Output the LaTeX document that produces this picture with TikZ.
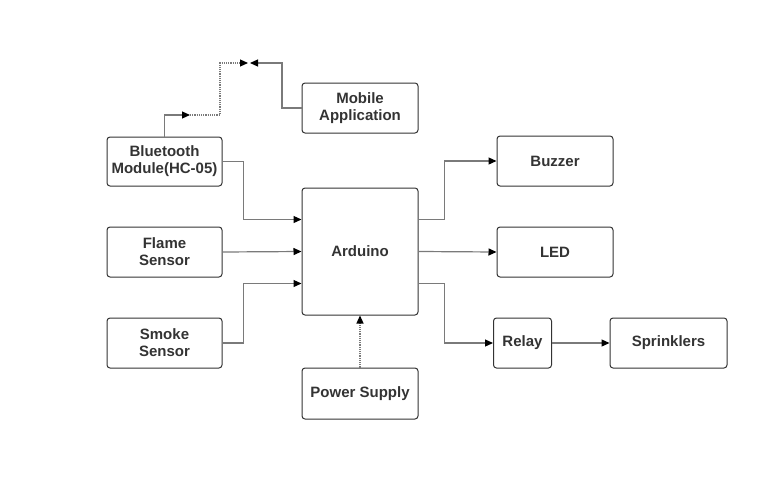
\documentclass[tikz,border=0pt]{standalone}
\usepackage{fontspec}
\setmainfont{Liberation Sans}
\usepackage{xcolor}
\usetikzlibrary{positioning,calc,arrows.meta}
\definecolor{boxline}{HTML}{333333}
\definecolor{wire}{HTML}{7A7A7A}
\tikzset{
    block/.style={draw=boxline, line width=1pt, rounded corners=3pt, align=center, text=boxline,
        font=\fontsize{15}{17}\selectfont\bfseries, inner sep=0pt},
    wireline/.style={draw=wire, line width=1.2pt, -{Triangle[length=8pt,width=7pt,color=black]}},
}
\begin{document}
\begin{tikzpicture}[x=1pt,y=-1pt]
    \useasboundingbox (0,0) rectangle (775,503);

    \node[block, minimum width=115pt, minimum height=49pt] (bt) at (164.5,161.5) {Bluetooth\\Module(HC-05)};
    \node[block, minimum width=115pt, minimum height=50pt] (flame) at (164.5,252) {Flame\\Sensor};
    \node[block, minimum width=115pt, minimum height=50pt] (smoke) at (164.5,343) {Smoke\\Sensor};
    \node[block, minimum width=116pt, minimum height=127pt] (ard) at (360,251.5) {Arduino};
    \node[block, minimum width=116pt, minimum height=50pt] (mob) at (360,108) {Mobile\\Application};
    \node[block, minimum width=116pt, minimum height=51pt] (pwr) at (360,393.5) {Power Supply};
    \node[block, minimum width=116pt, minimum height=50pt] (buz) at (555,161) {Buzzer};
    \node[block, minimum width=116pt, minimum height=50pt] (led) at (555,252) {LED};
    \node[block, minimum width=58pt, minimum height=50pt] (relay) at (522.5,343) {Relay};
    \node[block, minimum width=117pt, minimum height=50pt] (spr) at (668.5,343) {Sprinklers};

    \coordinate (in1) at ($(ard.north west)!0.25!(ard.south west)$);
    \coordinate (in3) at ($(ard.north west)!0.75!(ard.south west)$);
    \coordinate (out1) at ($(ard.north east)!0.25!(ard.south east)$);
    \coordinate (out3) at ($(ard.north east)!0.75!(ard.south east)$);
    \coordinate (m1) at (190,115);
    \coordinate (m2) at (248,63);
    \coordinate (m3) at (250,63);

    \draw[wireline] (bt.north) |- (m1);
    \draw[wireline, densely dotted] (m1) -- (220,115) |- (m2);
    \draw[wireline] (mob.west) -- (282,108) |- (m3);

    \draw[wireline] (bt.east) -- ++(21,0) |- (in1);
    \draw[wireline] (flame.east) -- (ard.west);
    \draw[wireline] (smoke.east) -- ++(21,0) |- (in3);

    \draw[wireline] (out1) -- ++(26,0) |- (buz.west);
    \draw[wireline] (ard.east) -- (led.west);
    \draw[wireline] (out3) -- ++(26,0) |- (relay.west);
    \draw[wireline] (relay.east) -- (spr.west);

    \draw[wireline, densely dotted] (pwr.north) -- (ard.south);
\end{tikzpicture}
\end{document}
